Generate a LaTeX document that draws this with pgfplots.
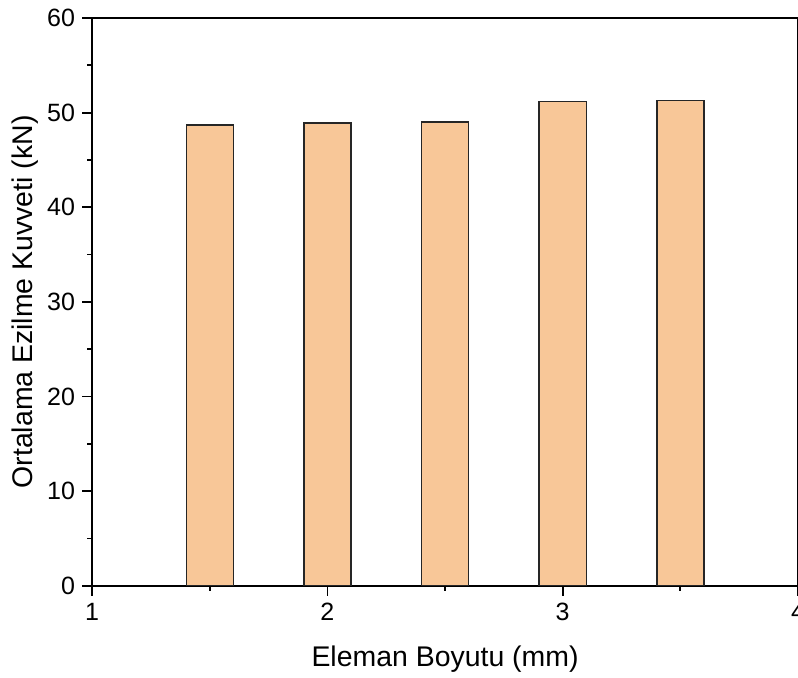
\documentclass[border=0pt]{standalone}
\usepackage{fontspec}
\setmainfont{Liberation Sans}
\usepackage{pgfplots}
\pgfplotsset{compat=1.18}
\definecolor{barfill}{RGB}{248,199,152}
\begin{document}
\begin{tikzpicture}
\begin{axis}[
  name=ax,
  scale only axis,
  width=352.5pt, height=283.5pt,
  xmin=1, xmax=4, ymin=0, ymax=60,
  xtick={1,2,3,4}, ytick={0,10,20,30,40,50,60},
  minor x tick num=1, minor y tick num=1,
  tick align=outside, tick pos=left,
  major tick length=5pt, minor tick length=2.5pt,
  every tick/.style={black, line width=0.9pt},
  axis line style={line width=1.1pt},
  /pgf/number format/assume math mode=true,
  tick label style={font=\fontsize{12.5}{14}\selectfont},
  label style={font=\fontsize{14.2}{16}\selectfont},
  xlabel={Eleman Boyutu (mm)},
  ylabel={Ortalama Ezilme Kuvveti (kN)},
  xlabel style={at={(axis description cs:0.5,0)}, anchor=center, yshift=-36.5pt},
  ylabel style={at={(axis description cs:0,0.5)}, anchor=center, yshift=33.5pt},
  ybar, bar width=0.2,
]
\addplot[fill=barfill, draw=black!85, line width=0.7pt] coordinates {
  (1.5,48.7) (2,48.9) (2.5,49.0) (3,51.2) (3.5,51.3)
};
\end{axis}
\pgfresetboundingbox
\path (-46pt,-46pt) rectangle (352.5pt,292.5pt);
\end{tikzpicture}
\end{document}
